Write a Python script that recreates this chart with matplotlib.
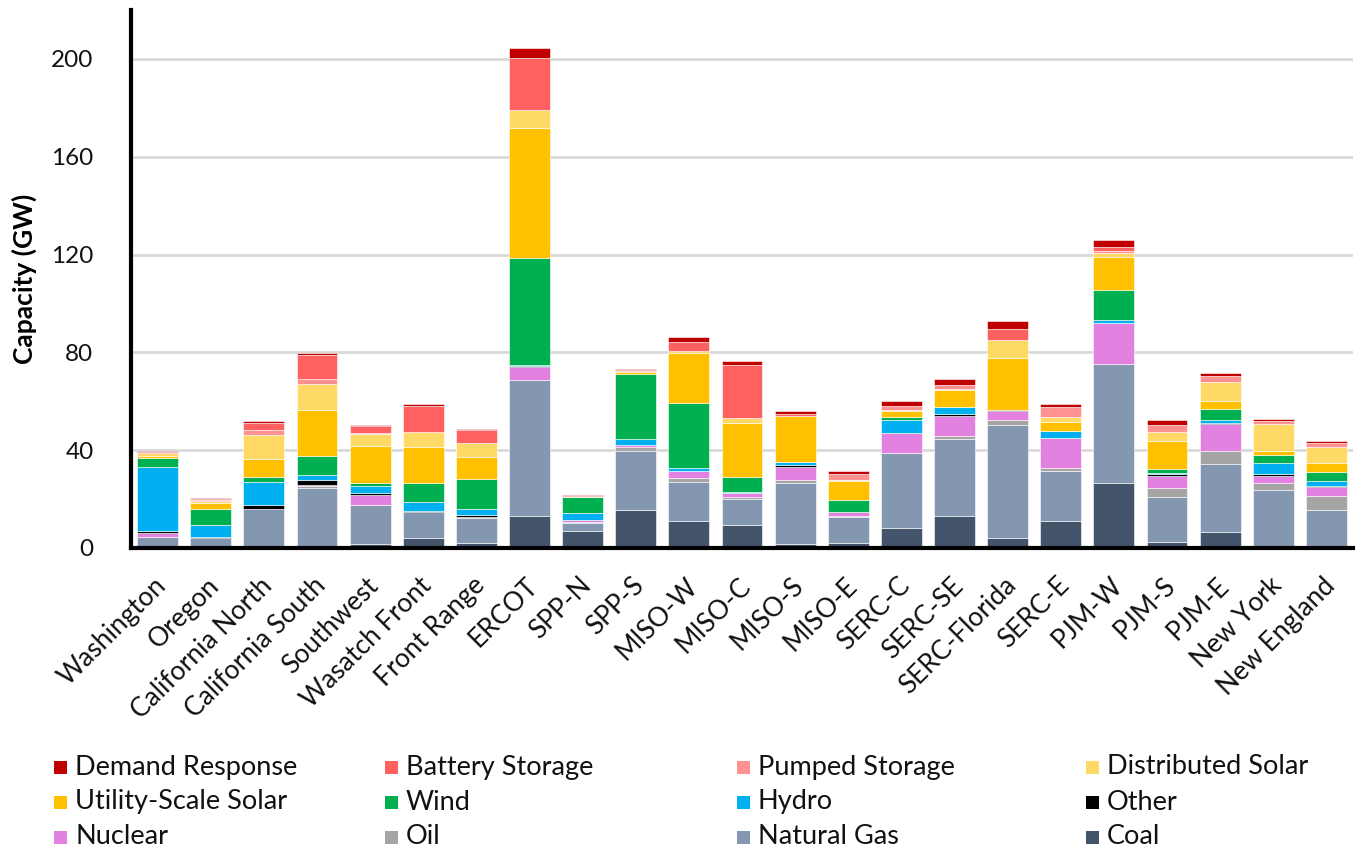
import matplotlib
matplotlib.use("Agg")
import matplotlib.pyplot as plt
from matplotlib.patches import Rectangle
import matplotlib.transforms as mtransforms

plt.rcParams['font.family'] = ['Lato', 'DejaVu Sans']

regions = ["Washington", "Oregon", "California North", "California South", "Southwest",
           "Wasatch Front", "Front Range", "ERCOT", "SPP-N", "SPP-S", "MISO-W", "MISO-C",
           "MISO-S", "MISO-E", "SERC-C", "SERC-SE", "SERC-Florida", "SERC-E", "PJM-W",
           "PJM-S", "PJM-E", "New York", "New England"]

# Installed capacity by resource (GW), stacked bottom to top
coal = [0, 0, 0, 0, 1.6, 4.1, 2.2, 13.2, 6.8, 15.7, 10.9, 9.5, 1.6, 2.2, 8.3, 13.1, 4.1, 11.0, 26.6, 2.5, 6.7, 0, 0]
natural_gas = [4.5, 3.9, 15.8, 24.5, 16.1, 10.5, 10.2, 55.5, 3.4, 24.1, 16.2, 10.5, 25.1, 10.5, 30.4, 31.4, 46.1, 20.3, 48.5, 18.4, 27.8, 23.6, 15.7]
oil = [0, 0, 0, 1.0, 0, 0, 0.3, 0, 0.5, 1.4, 1.4, 0.7, 1.1, 0.3, 0, 1.1, 2.2, 1.6, 0, 3.5, 5.2, 3.0, 5.6]
nuclear = [1.8, 0, 0, 0.4, 4.1, 0, 0, 5.2, 0.7, 1.1, 2.9, 1.6, 5.5, 1.6, 8.5, 8.3, 3.5, 12.0, 16.9, 5.2, 10.9, 3.0, 3.5]
other = [0.6, 0.5, 1.6, 2.0, 0.8, 0.7, 0.7, 0.4, 0, 0, 0, 0, 0.7, 0, 0, 0.7, 0.7, 0, 0, 0.5, 0.5, 0.5, 0.7]
hydro = [26.2, 5.2, 9.5, 2.0, 2.6, 3.4, 2.6, 0.7, 3.1, 2.2, 1.2, 0.5, 1.0, 0.3, 5.2, 3.0, 0, 3.1, 1.1, 0.5, 1.1, 4.8, 1.9]
wind = [3.8, 6.3, 2.0, 7.9, 1.5, 7.9, 12.1, 43.4, 6.3, 26.7, 26.6, 6.4, 0, 4.8, 1.1, 0, 0, 0, 12.4, 1.6, 4.8, 3.3, 3.8]
utility_solar = [0.8, 2.3, 7.4, 18.8, 15.1, 14.6, 9.3, 53.4, 0.2, 0.7, 20.4, 22.1, 18.8, 7.8, 2.6, 7.1, 21.0, 3.7, 13.6, 11.5, 3.1, 1.5, 3.7]
distributed_solar = [1.0, 1.2, 9.9, 10.5, 5.0, 6.4, 5.5, 7.2, 0.1, 0.3, 1.1, 1.8, 0.3, 0.3, 0.3, 0.4, 7.6, 1.9, 1.4, 3.7, 7.9, 10.9, 6.4]
pumped_storage = [0.3, 0.3, 2.0, 2.0, 0.3, 0, 0, 0, 0, 0, 0, 0, 0, 2.4, 1.5, 1.4, 0, 4.1, 0.8, 3.0, 2.2, 1.4, 1.8]
battery_storage = [0.4, 0.4, 3.0, 9.9, 2.7, 10.4, 5.2, 21.5, 0.3, 0.5, 3.7, 21.7, 0.8, 0, 0, 0, 4.2, 0, 1.7, 0, 0, 0, 0]
demand_response = [0.3, 0.5, 0.7, 0.6, 0.7, 0.7, 0.5, 3.8, 0.2, 0.3, 2.0, 1.6, 1.2, 1.2, 2.2, 2.6, 3.3, 1.1, 3.0, 1.8, 1.4, 0.8, 0.8]

series = [
    ("Coal", coal, "#44546A"),
    ("Natural Gas", natural_gas, "#8497B0"),
    ("Oil", oil, "#A5A5A5"),
    ("Nuclear", nuclear, "#E381E1"),
    ("Other", other, "#000000"),
    ("Hydro", hydro, "#00B0F0"),
    ("Wind", wind, "#00B050"),
    ("Utility-Scale Solar", utility_solar, "#FFC000"),
    ("Distributed Solar", distributed_solar, "#FFD966"),
    ("Pumped Storage", pumped_storage, "#FF9191"),
    ("Battery Storage", battery_storage, "#FF6161"),
    ("Demand Response", demand_response, "#C00000"),
]

fig = plt.figure(figsize=(13.62, 8.5), dpi=100)
ax = fig.add_axes([131 / 1362, 1 - 548 / 850, (1353 - 131) / 1362, 538 / 850])

x = list(range(len(regions)))
bottom = [0.0] * len(regions)
for name, vals, color in series:
    ax.bar(x, vals, width=0.77, bottom=bottom, color=color,
           edgecolor="white", linewidth=0.4, zorder=3)
    bottom = [b + v for b, v in zip(bottom, vals)]

ax.set_xlim(-0.5, len(regions) - 0.5)
ax.set_ylim(0, 220)
ax.set_yticks([0, 40, 80, 120, 160, 200])
ax.yaxis.grid(True, color="#D9D9D9", linewidth=2, zorder=0)
ax.set_axisbelow(True)
for s in ("top", "right"):
    ax.spines[s].set_visible(False)
for s in ("left", "bottom"):
    ax.spines[s].set_linewidth(3)
    ax.spines[s].set_color("black")
    ax.spines[s].set_zorder(6)
ax.tick_params(axis="both", length=0, colors="#111111")
ax.tick_params(axis="y", pad=27, labelsize=17.5)
ax.tick_params(axis="x", labelsize=19)
ax.set_ylabel("Capacity (GW)", fontsize=19, fontweight="bold", labelpad=10)

ax.set_xticks(x)
ax.set_xticklabels(regions, rotation=45, ha="right", va="top", rotation_mode="anchor")
offset = mtransforms.ScaledTranslation(-4 / 100, -20 / 100, fig.dpi_scale_trans)
for lbl in ax.get_xticklabels():
    lbl.set_transform(lbl.get_transform() + offset)

# Legend laid out row by row in four columns
legend_rows = [
    ["Demand Response", "Battery Storage", "Pumped Storage", "Distributed Solar"],
    ["Utility-Scale Solar", "Wind", "Hydro", "Other"],
    ["Nuclear", "Oil", "Natural Gas", "Coal"],
]
colors = {name: c for name, _, c in series}
col_x = [54, 385, 737, 1086]
row_y = [767, 802, 837]
W, H = 1362, 850
for r, row in enumerate(legend_rows):
    for c, name in enumerate(row):
        sq = 13
        fig.add_artist(Rectangle((col_x[c] / W, (H - row_y[r] - sq / 2) / H), sq / W, sq / H,
                                 transform=fig.transFigure, facecolor=colors[name],
                                 edgecolor="none"))
        fig.text((col_x[c] + sq + 8) / W, (H - row_y[r]) / H, name, fontsize=19.5,
                 va="center", ha="left", color="#111111")

fig.savefig("out.png", dpi=100)
